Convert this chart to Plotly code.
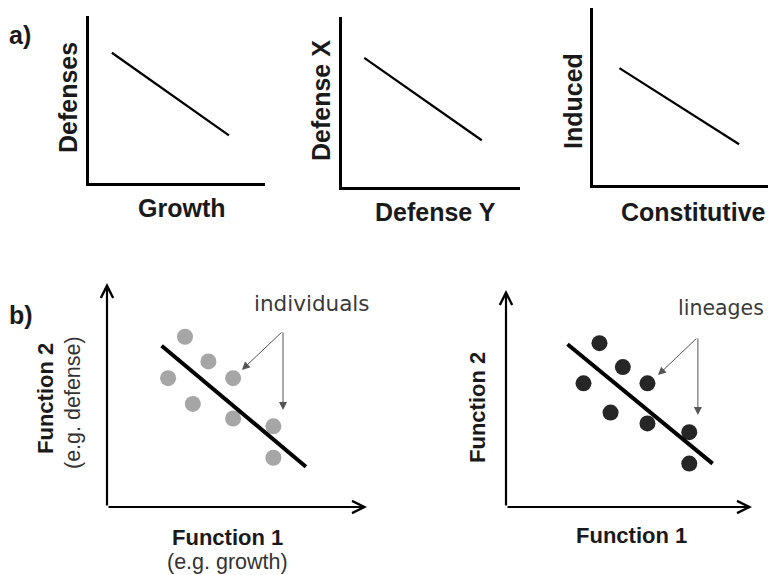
import plotly.graph_objects as go

# the page body adds an 8px margin; the figure is sized so it fits in the 776x575 window
OFF = 8
W, H = 776 - OFF, 575 - OFF

# ---------------- data ----------------
# panel a: simple trade-off lines (x0, x1), (y0, y1) in axis units 0-10
a1_x = [1.3, 7.95]
a1_y = [7.8, 2.85]
a2_x = [1.25, 7.85]
a2_y = [7.6, 2.75]
a3_x = [1.5, 8.3]
a3_y = [6.6, 2.3]

# panel b: individuals (left) and lineages (right)
b1_line_x = [2.1, 7.65]
b1_line_y = [7.2, 1.8]
indiv_x = [3.0, 3.9, 2.35, 4.85, 3.3, 4.85, 6.4, 6.4]
indiv_y = [7.6, 6.5, 5.75, 5.75, 4.6, 3.95, 3.6, 2.2]

b2_line_x = [2.5, 8.4]
b2_line_y = [7.5, 2.0]
lin_x = [3.8, 4.75, 3.15, 5.75, 4.25, 5.75, 7.45, 7.45]
lin_y = [7.55, 6.45, 5.7, 5.7, 4.35, 3.85, 3.45, 2.0]


def px(x):
    return (x - OFF) / W


def py(y):
    return 1 - (y - OFF) / H


fig = go.Figure()

# domains (pixel boxes in window coordinates -> paper)
doms = {
    1: ([89, 265], [183, 16]),
    2: ([342, 520], [187, 17]),
    3: ([593, 769], [185, 8]),
    4: ([107, 367], [507, 283]),
    5: ([506, 752], [507, 290]),
}

layout = dict(
    width=W, height=H, margin=dict(l=0, r=0, t=0, b=0),
    paper_bgcolor="white", plot_bgcolor="white", showlegend=False,
)
for i, (dx, dy) in doms.items():
    sfx = "" if i == 1 else str(i)
    show = i <= 3
    layout["xaxis" + sfx] = dict(
        domain=[max(0, px(dx[0])), min(1, px(dx[1]))], range=[0, 10], showgrid=False,
        zeroline=False, showticklabels=False, ticks="", showline=show,
        linecolor="black", linewidth=2.5, anchor="y" + sfx, fixedrange=True,
    )
    layout["yaxis" + sfx] = dict(
        domain=[max(0, py(dy[0])), min(1, py(dy[1]))], range=[0, 10], showgrid=False,
        zeroline=False, showticklabels=False, ticks="", showline=show,
        linecolor="black", linewidth=2.5, anchor="x" + sfx, fixedrange=True,
    )
fig.update_layout(**layout)

# panel a lines
for i, (xs, ys) in enumerate([(a1_x, a1_y), (a2_x, a2_y), (a3_x, a3_y)], start=1):
    sfx = "" if i == 1 else str(i)
    fig.add_trace(go.Scatter(x=xs, y=ys, mode="lines", xaxis="x" + sfx, yaxis="y" + sfx,
                             line=dict(color="black", width=2.2)))

# panel b
fig.add_trace(go.Scatter(x=indiv_x, y=indiv_y, mode="markers", xaxis="x4", yaxis="y4",
                         marker=dict(color="#a6a6a6", size=16), cliponaxis=False))
fig.add_trace(go.Scatter(x=b1_line_x, y=b1_line_y, mode="lines", xaxis="x4", yaxis="y4",
                         line=dict(color="black", width=4)))
fig.add_trace(go.Scatter(x=lin_x, y=lin_y, mode="markers", xaxis="x5", yaxis="y5",
                         marker=dict(color="#262626", size=16), cliponaxis=False))
fig.add_trace(go.Scatter(x=b2_line_x, y=b2_line_y, mode="lines", xaxis="x5", yaxis="y5",
                         line=dict(color="black", width=4)))

ann = []
# axis arrows for panel b
for ax in ["4", "5"]:
    for (hx, hy) in [(10, 0), (0, 10)]:
        ann.append(dict(x=hx, y=hy, ax=0, ay=0, xref="x" + ax, yref="y" + ax,
                        axref="x" + ax, ayref="y" + ax, text="", showarrow=True,
                        arrowhead=5, arrowsize=1.1, arrowwidth=2.2, arrowcolor="black"))

# pointer arrows
pointer = {
    "4": ((6.77, 7.86), [(5.19, 6.12), (6.77, 4.33)]),
    "5": ((7.8, 7.83), [(6.18, 6.08), (7.8, 4.24)]),
}
for ax, (start, heads) in pointer.items():
    for hx, hy in heads:
        ann.append(dict(x=hx, y=hy, ax=start[0], ay=start[1], xref="x" + ax, yref="y" + ax,
                        axref="x" + ax, ayref="y" + ax, text="", showarrow=True,
                        arrowhead=2, arrowsize=1.6, arrowwidth=1, arrowcolor="#555555"))

BOLD = "Liberation Sans"
LIGHT = "DejaVu Sans"


def label(text, x, y, size, family=BOLD, bold=True, angle=0, color="#1a1a1a", anchor="center"):
    t = "<b>%s</b>" % text if bold else text
    ann.append(dict(text=t, x=px(x), y=py(y), xref="paper", yref="paper", showarrow=False,
                    xanchor=anchor, yanchor="middle", textangle=angle,
                    font=dict(family=family, size=size, color=color)))


label("a)", 20, 35, 25)
label("Defenses", 68, 98, 25, angle=-90)
label("Growth", 182, 208, 25)
label("Defense X", 321, 101, 25, angle=-90)
label("Defense Y", 435, 212, 25)
label("Induced", 573, 101, 25, angle=-90)
label("Constitutive", 693, 212, 25)

label("b)", 21, 315, 25)
label("Function 2", 45, 399, 22, angle=-90)
label("(e.g. defense)", 73, 403, 21.5, family=BOLD, bold=False, angle=-90, color="#333333")
label("Function 1", 227, 537, 22)
label("(e.g. growth)", 227, 562, 21.5, family=BOLD, bold=False, color="#333333")
label("Function 2", 477, 408, 22, angle=-90)
label("Function 1", 631, 535, 22)
label("individuals", 312, 303, 21.5, family=LIGHT, bold=False, color="#3a3a3a")
label("lineages", 766, 308, 20.5, family=LIGHT, bold=False, color="#3a3a3a", anchor="right")

fig.update_layout(annotations=ann)
fig.write_html("out.html")
